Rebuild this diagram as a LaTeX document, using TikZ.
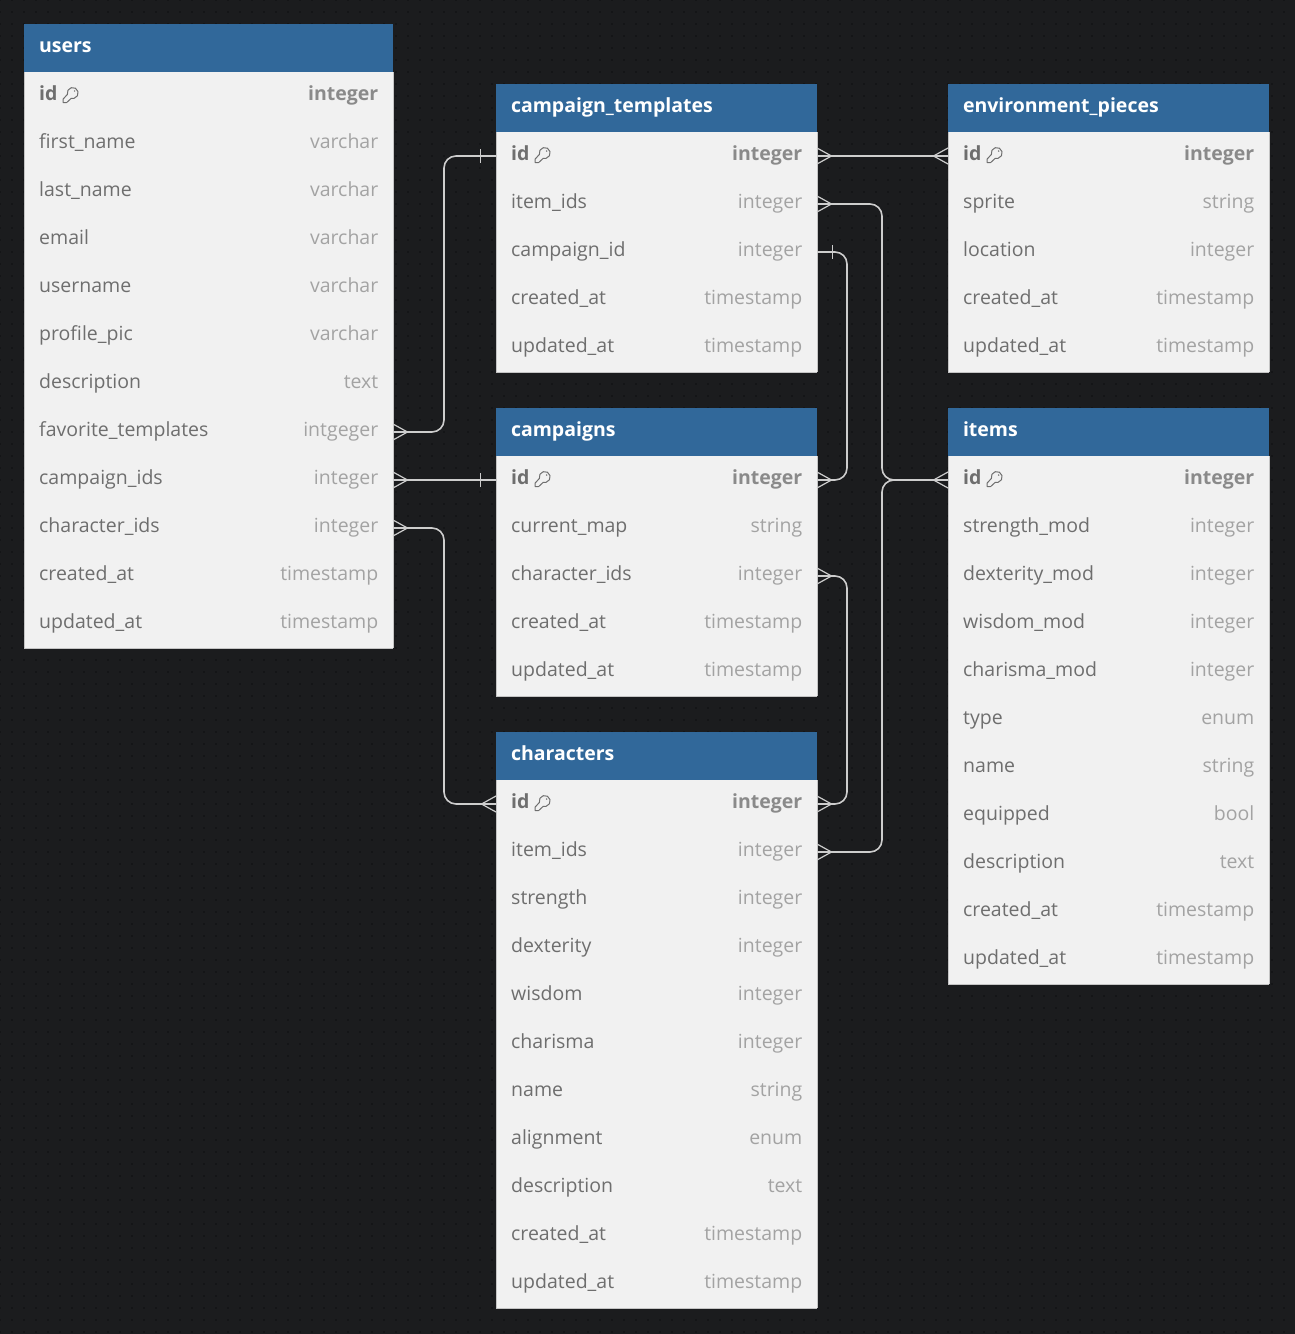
\documentclass[tikz,border=0pt]{standalone}
\usepackage{fontspec}
\setmainfont{Open Sans}
\usetikzlibrary{positioning,calc}
\catcode`\_=12

\definecolor{pagebg}{HTML}{1B1C1E}
\definecolor{griddot}{HTML}{141517}
\definecolor{headblue}{HTML}{31689A}
\definecolor{rowfill}{HTML}{F1F1F1}
\definecolor{rowrule}{HTML}{C4C4C4}
\definecolor{namegray}{HTML}{6E6E6E}
\definecolor{typegray}{HTML}{A3A3A3}
\definecolor{idtype}{HTML}{8A8A8A}
\definecolor{relgray}{HTML}{CDCDCD}

\tikzset{
    tablehead/.style={fill=headblue, text=white, font=\fontsize{19.5}{24}\selectfont\bfseries, anchor=north west,
        minimum height=48pt, inner sep=0pt, outer sep=0pt, text height=15pt, text depth=6pt, align=left},
    tablerow/.style={fill=rowfill, minimum height=48pt, minimum width=#1, inner sep=0pt, outer sep=0pt},
    colname/.style={anchor=base west, text=namegray, font=\fontsize{19.5}{24}\selectfont, inner sep=0pt},
    coltype/.style={anchor=base east, text=typegray, font=\fontsize{19.5}{24}\selectfont, inner sep=0pt},
    relline/.style={draw=relgray, line width=1.6pt, rounded corners=12pt},
    relmark/.style={draw=relgray, line width=1.2pt},
    keyicon/.pic={
        \draw[namegray, line width=1pt, line join=round]
            (195:5.5pt) arc[start angle=195, end angle=-105, radius=5.5pt]
            -- (-6pt,-9.5pt) -- (-9.5pt,-9.5pt) -- (-9.5pt,-6pt) -- cycle;
        \fill[namegray] (2pt,2pt) circle (0.8pt);
    }
}

% one table: name, x, y, width, rows
\newcommand{\dbtable}[5]{
    \node[tablehead, minimum width=#4, text width=#4-30pt] (#1-head) at (#2,#3) {#1};
    \foreach \rowname/\rowtype [count=\rowno, remember=\rowname as \prevrow (initially head)] in {#5} {
        \node[tablerow=#4, below=0pt of #1-\prevrow] (#1-\rowname) {};
        \draw[rowrule, line width=0.9pt] (#1-\rowname.south west) -- (#1-\rowname.south east);
        \draw[rowrule, line width=0.5pt] (#1-\rowname.north west) -- (#1-\rowname.south west)
            (#1-\rowname.north east) -- (#1-\rowname.south east);
        \ifnum\rowno=1
            \node[colname, font=\fontsize{19.5}{24}\selectfont\bfseries] (#1-\rowname-text)
                at ($(#1-\rowname.west)+(15,4)$) {\rowname};
            \pic at ($(#1-\rowname-text.base east)+(15,-7)$) {keyicon};
            \node[coltype, text=idtype, font=\fontsize{19.5}{24}\selectfont\bfseries] (#1-\rowname-type)
                at ($(#1-\rowname.east)+(-14.5,4)$) {\rowtype};
        \else
            \node[colname] (#1-\rowname-text) at ($(#1-\rowname.west)+(15,4)$) {\rowname};
            \node[coltype] (#1-\rowname-type) at ($(#1-\rowname.east)+(-14.5,4)$) {\rowtype};
        \fi
    }
}

% crow foot and bar, dir is +1 for the right side and -1 for the left side
\newcommand{\crowfoot}[2]{
    \draw[relmark] ($(#1)+(0,-8)$) -- ($(#1)+(#2*14.5,0)$) -- ($(#1)+(0,8)$);
}
\newcommand{\onebar}[2]{
    \draw[relmark] ($(#1)+(#2*15.5,-7)$) -- ($(#1)+(#2*15.5,7)$);
}

\begin{document}
\begin{tikzpicture}[x=1pt, y=-1pt]

    % page
    \fill[pagebg] (0,0) rectangle (1295,1334);
    \useasboundingbox (0,0) rectangle (1295,1334);

    % dotted grid
    \foreach \j in {0,12,...,1332} {
        \draw[griddot, line width=1.6pt, dash pattern=on 1.6pt off 10.4pt] (-0.8,\j) -- (1295,\j);
    }

    % tables
    \dbtable{users}{24}{24}{369}{id/integer, first_name/varchar, last_name/varchar, email/varchar,
        username/varchar, profile_pic/varchar, description/text, favorite_templates/intgeger,
        campaign_ids/integer, character_ids/integer, created_at/timestamp, updated_at/timestamp}

    \dbtable{campaign_templates}{496}{84}{321}{id/integer, item_ids/integer, campaign_id/integer,
        created_at/timestamp, updated_at/timestamp}

    \dbtable{campaigns}{496}{408}{321}{id/integer, current_map/string, character_ids/integer,
        created_at/timestamp, updated_at/timestamp}

    \dbtable{characters}{496}{732}{321}{id/integer, item_ids/integer, strength/integer, dexterity/integer,
        wisdom/integer, charisma/integer, name/string, alignment/enum, description/text,
        created_at/timestamp, updated_at/timestamp}

    \dbtable{environment_pieces}{948}{84}{321}{id/integer, sprite/string, location/integer,
        created_at/timestamp, updated_at/timestamp}

    \dbtable{items}{948}{408}{321}{id/integer, strength_mod/integer, dexterity_mod/integer, wisdom_mod/integer,
        charisma_mod/integer, type/enum, name/string, equipped/bool, description/text,
        created_at/timestamp, updated_at/timestamp}

    % users to the middle column
    \draw[relline] (users-favorite_templates.east) -| (444,156) -- (campaign_templates-id.west);
    \draw[relline] (users-campaign_ids.east) -- (campaigns-id.west);
    \draw[relline] (users-character_ids.east) -| (444,804) -- (characters-id.west);

    % middle column to the right column
    \draw[relline] (campaign_templates-id.east) -- (environment_pieces-id.west);
    \draw[relline] (campaign_templates-item_ids.east) -| (882,480) -- (items-id.west);
    \draw[relline] (characters-item_ids.east) -| (882,480) -- (items-id.west);

    % inside the middle column
    \draw[relline] (campaign_templates-campaign_id.east) -| (847,480) -- (campaigns-id.east);
    \draw[relline] (campaigns-character_ids.east) -| (847,804) -- (characters-id.east);

    % ends
    \crowfoot{users-favorite_templates.east}{1}
    \crowfoot{users-campaign_ids.east}{1}
    \crowfoot{users-character_ids.east}{1}
    \crowfoot{characters-id.west}{-1}
    \crowfoot{campaign_templates-id.east}{1}
    \crowfoot{environment_pieces-id.west}{-1}
    \crowfoot{campaign_templates-item_ids.east}{1}
    \crowfoot{items-id.west}{-1}
    \crowfoot{characters-item_ids.east}{1}
    \crowfoot{campaigns-id.east}{1}
    \crowfoot{campaigns-character_ids.east}{1}
    \crowfoot{characters-id.east}{1}
    \onebar{campaign_templates-id.west}{-1}
    \onebar{campaigns-id.west}{-1}
    \onebar{campaign_templates-campaign_id.east}{1}

\end{tikzpicture}
\end{document}
